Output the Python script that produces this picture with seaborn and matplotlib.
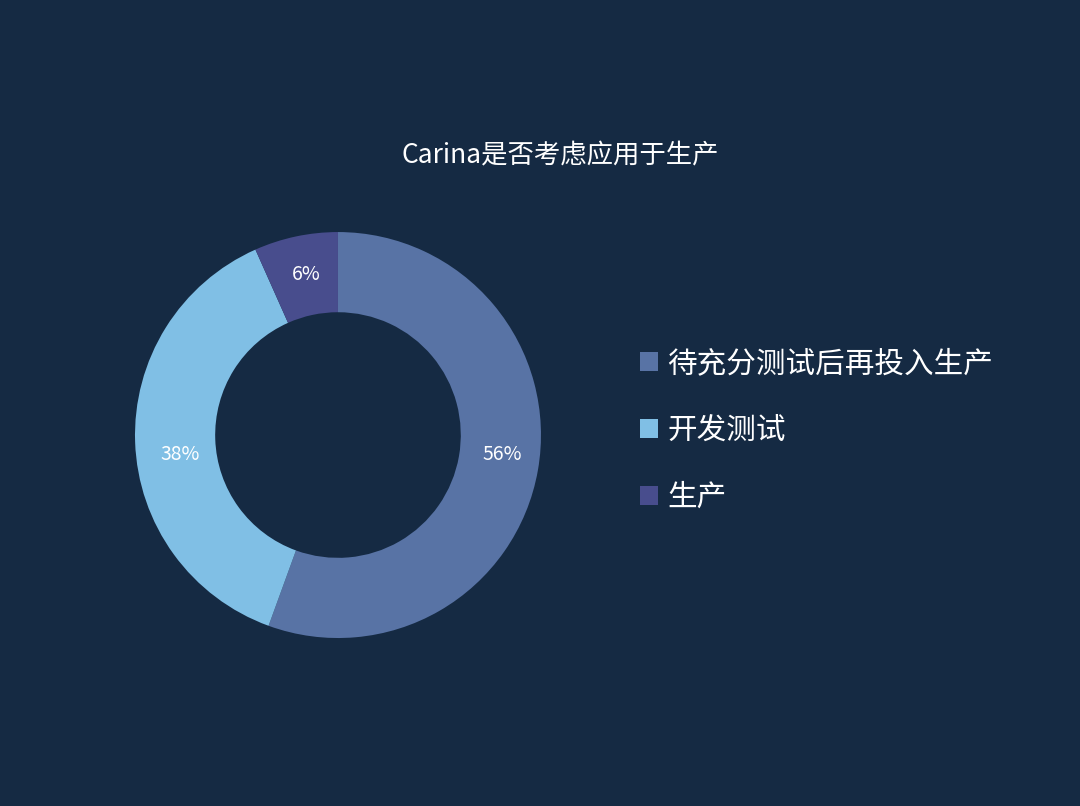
import matplotlib
matplotlib.use("Agg")
import matplotlib.pyplot as plt
import matplotlib.transforms as mtransforms
import seaborn as sns

# Data
categories = ["待充分测试后再投入生产", "开发测试", "生产"]
counts = [25, 17, 3]
pct_labels = ["56%", "38%", "6%"]
title = "Carina是否考虑应用于生产"

bg = "#152a43"
colors = sns.color_palette(["#5873a5", "#80bfe5", "#484d8d"])

sns.set_theme(style="dark", rc={"axes.facecolor": bg, "figure.facecolor": bg})
plt.rcParams["font.family"] = ["Noto Sans CJK SC", "DejaVu Sans"]

fig = plt.figure(figsize=(10.8, 8.06), dpi=100)
fig.patch.set_facecolor(bg)
ax = fig.add_axes([0.125, 0.2084, 0.3759, 0.5037])
ax.set_facecolor(bg)

lab_iter = iter(pct_labels)
wedges, texts, autotexts = ax.pie(
    counts,
    colors=colors,
    startangle=90,
    counterclock=False,
    radius=1.0,
    wedgeprops=dict(width=0.395, edgecolor="none", linewidth=0),
    autopct=lambda p: next(lab_iter),
    pctdistance=0.81,
    textprops=dict(color="white", fontsize=14),
)
# small label nudges (points) to mirror the reference label placement
nudges = [(2, 6.5), (5, -10), (2, 0)]
for t, (dx, dy) in zip(autotexts, nudges):
    t.set_transform(t.get_transform() + mtransforms.ScaledTranslation(dx / 72, dy / 72, fig.dpi_scale_trans))

ax.set_xlim(-1, 1)
ax.set_ylim(-1, 1)
ax.set_aspect("equal")
ax.axis("off")

fig.text(0.519, 0.807, title, color="white", fontsize=19, ha="center", va="center")

leg = fig.legend(
    wedges, categories,
    loc="center left",
    bbox_to_anchor=(0.5926, 0.466),
    bbox_transform=fig.transFigure,
    frameon=False,
    fontsize=21.3,
    handlelength=0.6,
    handleheight=0.6,
    handletextpad=0.33,
    labelspacing=1.22,
    borderpad=0,
    borderaxespad=0,
    labelcolor="white",
)

fig.savefig("out.png", dpi=100, facecolor=bg)
